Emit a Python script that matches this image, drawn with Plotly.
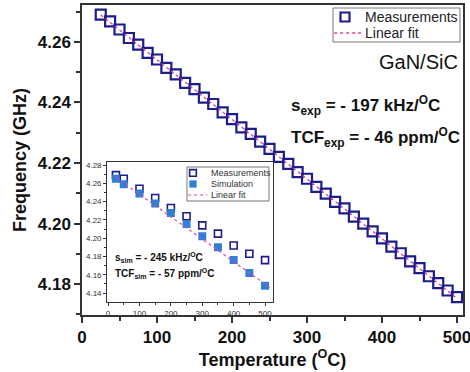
import plotly.graph_objects as go

# ---------------- data ----------------
# main panel: measured frequency vs temperature
temp_main = [25, 37.5, 50, 62.5, 75, 87.5, 100, 112.5, 125, 137.5, 150, 162.5, 175, 187.5,
             200, 212.5, 225, 237.5, 250, 262.5, 275, 287.5, 300, 312.5, 325, 337.5, 350,
             362.5, 375, 387.5, 400, 412.5, 425, 437.5, 450, 462.5, 475, 487.5, 500]
freq_main = [4.2690, 4.2668, 4.2641, 4.2613, 4.2591, 4.2564, 4.2542, 4.2514, 4.2493, 4.2465,
             4.2444, 4.2416, 4.2395, 4.2367, 4.2345, 4.2318, 4.2296, 4.2271, 4.2247, 4.2220,
             4.2197, 4.2170, 4.2148, 4.2121, 4.2099, 4.2072, 4.2050, 4.2023, 4.2000, 4.1974,
             4.1951, 4.1924, 4.1902, 4.1875, 4.1853, 4.1826, 4.1803, 4.1779, 4.1757]
fit_main_t = [25, 500]
fit_main_f = [4.2689, 4.1753]
main_legend_labels = ["Measurements", "Linear fit"]

# inset: measurements vs simulation
temp_inset = [25, 50, 100, 150, 200, 250, 300, 350, 400, 450, 500]
meas_inset = [4.269, 4.265, 4.254, 4.244, 4.233, 4.224, 4.214, 4.205, 4.192, 4.183, 4.176]
sim_inset = [4.265, 4.259, 4.249, 4.238, 4.2275, 4.2155, 4.202, 4.190, 4.176, 4.162, 4.148]
fit_inset_t = [25, 520]
fit_inset_f = [4.2663, 4.1450]
inset_legend_labels = ["Measurements", "Simulation", "Linear fit"]

main_xticks = [0, 100, 200, 300, 400, 500]
main_yticks = [4.18, 4.20, 4.22, 4.24, 4.26]
inset_xticks = [0, 100, 200, 300, 400, 500]
inset_yticks = [4.14, 4.16, 4.18, 4.20, 4.22, 4.24, 4.26, 4.28]

NAVY = "#1c1c8c"
BLUE = "#2f7fd6"
PINK = "#e0449a"
FONT = "Arial, Liberation Sans, sans-serif"

fig = go.Figure()

# main traces (compact legends are drawn separately below)
fig.add_trace(go.Scatter(x=temp_main, y=freq_main, mode="markers", name="Measurements",
                         showlegend=False,
                         marker=dict(symbol="square-open", size=10, color=NAVY,
                                     line=dict(width=2.2, color=NAVY))))
fig.add_trace(go.Scatter(x=fit_main_t, y=fit_main_f, mode="lines", name="Linear fit",
                         showlegend=False,
                         line=dict(color=PINK, width=1.3, dash="dot")))

# inset traces
fig.add_trace(go.Scatter(x=temp_inset, y=meas_inset, mode="markers", name="Measurements",
                         xaxis="x2", yaxis="y2", showlegend=False,
                         marker=dict(symbol="square-open", size=7, color=NAVY,
                                     line=dict(width=1.6, color=NAVY))))
fig.add_trace(go.Scatter(x=temp_inset, y=sim_inset, mode="markers", name="Simulation",
                         xaxis="x2", yaxis="y2", showlegend=False,
                         marker=dict(symbol="square", size=8, color=BLUE)))
fig.add_trace(go.Scatter(x=fit_inset_t, y=fit_inset_f, mode="lines", name="Linear fit",
                         xaxis="x2", yaxis="y2", showlegend=False,
                         line=dict(color=PINK, width=1.2, dash="dot")))

def axis_common(lw):
    return dict(showgrid=False, zeroline=False, showline=True, mirror=True,
                linecolor="#333333", linewidth=lw, ticks="outside",
                tickcolor="#333333", tickwidth=lw, automargin=False,
                ticklabeloverflow="allow")

# inset box geometry (paper coords)
ix0, ix1, iy0, iy1 = 0.066, 0.501, 0.042, 0.4935

# compact inset legend (paper coords)
lx0, lx1, ly0, ly1 = 0.2756, 0.4908, 0.3677, 0.4774
row_y = [0.4581, 0.4226, 0.3871]
sym_x = 0.2913
sw, sh = 0.0175, 0.0215
text_x = 0.333

# compact main legend (paper coords)
mx0, mx1, my0, my1 = 0.6588, 0.9921, 0.8806, 0.9903
mrow_y = [0.9613, 0.9097]
msym_x = 0.6903
msw, msh = 0.0236, 0.029
mtext_x = 0.7375

shapes = [
    dict(type="rect", xref="paper", yref="paper", x0=ix0, x1=ix1, y0=iy0, y1=iy1,
         fillcolor="white", line=dict(width=0), layer="below"),
    # inset legend
    dict(type="rect", xref="paper", yref="paper", x0=lx0, x1=lx1, y0=ly0, y1=ly1,
         fillcolor="white", line=dict(width=1, color="#777777")),
    dict(type="rect", xref="paper", yref="paper", x0=sym_x - sw / 2, x1=sym_x + sw / 2,
         y0=row_y[0] - sh / 2, y1=row_y[0] + sh / 2, line=dict(width=1.6, color=NAVY)),
    dict(type="rect", xref="paper", yref="paper", x0=sym_x - sw / 2, x1=sym_x + sw / 2,
         y0=row_y[1] - sh / 2, y1=row_y[1] + sh / 2, fillcolor=BLUE,
         line=dict(width=0.5, color=BLUE)),
    dict(type="line", xref="paper", yref="paper", x0=lx0 + 0.003, x1=text_x - 0.004,
         y0=row_y[2], y1=row_y[2], line=dict(width=1.2, color=PINK, dash="dot")),
    # main legend
    dict(type="rect", xref="paper", yref="paper", x0=mx0, x1=mx1, y0=my0, y1=my1,
         fillcolor="white", line=dict(width=1, color="#777777")),
    dict(type="rect", xref="paper", yref="paper", x0=msym_x - msw / 2, x1=msym_x + msw / 2,
         y0=mrow_y[0] - msh / 2, y1=mrow_y[0] + msh / 2, line=dict(width=2.2, color=NAVY)),
    dict(type="line", xref="paper", yref="paper", x0=mx0 + 0.003, x1=mtext_x - 0.004,
         y0=mrow_y[1], y1=mrow_y[1], line=dict(width=1.3, color=PINK, dash="dot")),
]

annotations = [
    dict(text="GaN/SiC", xref="paper", yref="paper", x=0.992, y=0.815,
         xanchor="right", yanchor="middle", showarrow=False,
         font=dict(size=20, family=FONT, color="#111111")),
    dict(text="<b>s<sub>exp</sub> = - 197 kHz/<sup>O</sup>C</b>", xref="paper",
         yref="paper", x=0.543, y=0.677, xanchor="left", yanchor="middle",
         showarrow=False, font=dict(size=17, family=FONT, color="#111111")),
    dict(text="<b>TCF<sub>exp</sub> = - 46 ppm/<sup>O</sup>C</b>", xref="paper",
         yref="paper", x=0.543, y=0.574, xanchor="left", yanchor="middle",
         showarrow=False, font=dict(size=17, family=FONT, color="#111111")),
    dict(text="<b>s<sub>sim</sub> = - 245 kHz/<sup>O</sup>C</b>", xref="paper",
         yref="paper", x=0.081, y=0.184, xanchor="left", yanchor="middle",
         showarrow=False, font=dict(size=10, family=FONT, color="#111111")),
    dict(text="<b>TCF<sub>sim</sub> = - 57 ppm/<sup>O</sup>C</b>", xref="paper",
         yref="paper", x=0.081, y=0.135, xanchor="left", yanchor="middle",
         showarrow=False, font=dict(size=10, family=FONT, color="#111111")),
]
for lab, ry in zip(inset_legend_labels, row_y):
    annotations.append(dict(text=lab, xref="paper", yref="paper", x=text_x, y=ry,
                            xanchor="left", yanchor="middle", showarrow=False,
                            font=dict(size=9, family=FONT, color="#333333")))
for lab, ry in zip(main_legend_labels, mrow_y):
    annotations.append(dict(text=lab, xref="paper", yref="paper", x=mtext_x, y=ry,
                            xanchor="left", yanchor="middle", showarrow=False,
                            font=dict(size=14, family=FONT, color="#222222")))

fig.update_layout(
    width=470, height=372,
    margin=dict(l=82, r=7, t=5, b=57, autoexpand=False),
    paper_bgcolor="white", plot_bgcolor="white",
    font=dict(family=FONT, color="#111111"),
    showlegend=False,
    xaxis=dict(**axis_common(1.5), range=[0, 508], tickvals=main_xticks, ticklen=6,
               tickfont=dict(size=17, family=FONT, weight="bold"),
               minor=dict(dtick=50, ticklen=4, ticks="outside", tickcolor="#333333"),
               title=dict(text="<b>Temperature (<sup>O</sup>C)</b>", font=dict(size=18),
                          standoff=4)),
    yaxis=dict(**axis_common(1.5), range=[4.1698, 4.2722], tickvals=main_yticks,
               tickformat=".2f", ticklen=6,
               tickfont=dict(size=17, family=FONT, weight="bold"),
               minor=dict(dtick=0.01, tick0=4.17, ticklen=4, ticks="outside",
                          tickcolor="#333333"),
               title=dict(text="<b>Frequency (GHz)</b>", font=dict(size=18), standoff=6)),
    xaxis2=dict(**axis_common(1), domain=[ix0, ix1], anchor="y2", range=[-3, 525],
                tickvals=inset_xticks, ticklen=3,
                tickfont=dict(size=8, color="#333333"),
                minor=dict(dtick=50, ticklen=2, ticks="outside", tickcolor="#333333")),
    yaxis2=dict(**axis_common(1), domain=[iy0, iy1], anchor="x2", range=[4.1302, 4.2833],
                tickvals=inset_yticks, tickformat=".2f", ticklen=3,
                tickfont=dict(size=8, color="#333333"),
                minor=dict(dtick=0.01, tick0=4.13, ticklen=2, ticks="outside",
                           tickcolor="#333333")),
    shapes=shapes,
    annotations=annotations,
)

fig.write_html("out.html")
